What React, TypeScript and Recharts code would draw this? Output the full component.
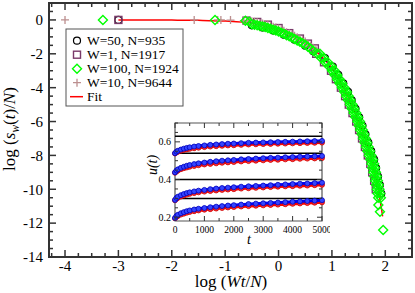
import React from 'react'
import { ComposedChart, Scatter, Line, XAxis, YAxis, ReferenceArea, ReferenceLine } from 'recharts'

// main panel: log(Wt/N) vs log(s_w(t)/N)
const w50 = [
  [-3, 0], [-0.5, -0.32], [-0.3, -0.45], [-0.1, -0.63], [0.1, -0.88], [0.3, -1.17], [0.5, -1.52], [0.65, -1.85],
  [0.869, -2.25], [1.016, -2.75], [1.119, -3.25], [1.212, -3.75], [1.302, -4.25], [1.371, -4.75],
  [1.441, -5.25], [1.51, -5.75], [1.572, -6.25], [1.627, -6.75], [1.681, -7.25], [1.735, -7.75],
  [1.79, -8.25], [1.827, -8.75], [1.863, -9.25], [1.898, -9.75], [1.924, -10.25],
]
const w1 = [
  [-3, 0], [-0.6, -0.04], [-0.4, -0.12], [-0.2, -0.28], [0, -0.48], [0.2, -0.78], [0.4, -1.1], [0.55, -1.4],
  [0.68, -1.68], [0.705, -2], [0.852, -2.5], [0.983, -3], [1.075, -3.5], [1.168, -4], [1.247, -4.5],
  [1.316, -5], [1.386, -5.5], [1.455, -6], [1.509, -6.5], [1.564, -7], [1.618, -7.5], [1.672, -8],
  [1.719, -8.5], [1.755, -9], [1.791, -9.5], [1.821, -10],
]
const w100 = [
  [-3.29, 0], [-1.19, 0], [-0.62, -0.05], [-0.55, -0.1],
  [-0.5, -0.26], [-0.45, -0.29], [-0.4, -0.32], [-0.35, -0.36], [-0.3, -0.39], [-0.25, -0.42],
  [-0.2, -0.47], [-0.15, -0.52], [-0.1, -0.58], [-0.05, -0.63], [0, -0.68], [0.05, -0.75], [0.1, -0.82],
  [0.15, -0.9], [0.2, -0.97], [0.25, -1.04], [0.3, -1.12], [0.35, -1.21], [0.4, -1.29], [0.45, -1.38],
  [0.5, -1.46], [0.55, -1.58], [0.6, -1.7], [0.65, -1.82],
  [0.725, -2], [0.799, -2.25], [0.872, -2.5], [0.946, -2.75], [1.003, -3], [1.049, -3.25], [1.095, -3.5],
  [1.142, -3.75], [1.188, -4], [1.232, -4.25], [1.267, -4.5], [1.301, -4.75], [1.336, -5], [1.371, -5.25],
  [1.406, -5.5], [1.44, -5.75], [1.475, -6], [1.502, -6.25], [1.529, -6.5], [1.557, -6.75], [1.584, -7],
  [1.611, -7.25], [1.638, -7.5], [1.665, -7.75], [1.692, -8], [1.72, -8.25], [1.739, -8.5], [1.757, -8.75],
  [1.775, -9], [1.793, -9.25], [1.811, -9.5], [1.828, -9.75], [1.841, -10], [1.854, -10.25], [1.867, -10.5],
  [0.775, -2], [0.849, -2.25], [0.922, -2.5], [0.996, -2.75], [1.053, -3], [1.099, -3.25], [1.145, -3.5],
  [1.192, -3.75], [1.238, -4], [1.282, -4.25], [1.317, -4.5], [1.351, -4.75], [1.386, -5], [1.421, -5.25],
  [1.456, -5.5], [1.49, -5.75], [1.525, -6], [1.552, -6.25], [1.579, -6.5], [1.607, -6.75], [1.634, -7],
  [1.661, -7.25], [1.688, -7.5], [1.715, -7.75], [1.742, -8], [1.77, -8.25], [1.789, -8.5], [1.807, -8.75],
  [1.825, -9], [1.843, -9.25], [1.861, -9.5], [1.878, -9.75], [1.891, -10], [1.904, -10.25], [1.917, -10.5],
  [1.87, -10.93], [1.9, -11.33], [1.96, -12.4],
]
const w10 = [
  [-4, 0], [-1.58, 0], [-1.14, 0], [-1.08, 0], [-0.9, -0.01],
  [-0.65, -0.04], [-0.6, -0.05], [-0.55, -0.07], [-0.5, -0.08], [-0.45, -0.11], [-0.4, -0.14],
  [-0.35, -0.18], [-0.3, -0.21], [-0.25, -0.24], [-0.2, -0.29], [-0.15, -0.34], [-0.1, -0.4],
  [-0.05, -0.45], [0, -0.5], [0.05, -0.57], [0.1, -0.64], [0.15, -0.72], [0.2, -0.79], [0.25, -0.86],
  [0.3, -0.94], [0.35, -1.03], [0.4, -1.11], [0.45, -1.2], [0.5, -1.28], [0.55, -1.4], [0.6, -1.52],
  [0.65, -1.64], [0.7, -1.76],
]
const fit = [
  [-3, 0], [-2.5, -0.003], [-2, -0.01], [-1.5, -0.025], [-1, -0.07], [-0.5, -0.2], [-0.25, -0.36],
  [0, -0.62], [0.25, -0.98], [0.5, -1.4], [0.75, -2.0], [1, -2.85], [1.25, -4.2], [1.5, -6.0],
  [1.75, -8.3], [1.85, -9.7], [1.95, -11.6],
]

// inset: u(t), four runs, blue and red
const insetT = [0, 50, 100, 200, 300, 400, 500, 650, 800, 1000, 1200, 1400, 1600, 1800, 2000, 2250, 2500, 2750, 3000, 3250, 3500, 3750, 4000, 4250, 4500, 4750, 5000]
const blue1 = [0.540, 0.548, 0.553, 0.559, 0.564, 0.568, 0.571, 0.575, 0.578, 0.581, 0.584, 0.586, 0.588, 0.590, 0.591, 0.593, 0.595, 0.596, 0.597, 0.598, 0.599, 0.600, 0.601, 0.602, 0.603, 0.604, 0.605]
const red1 = [0.538, 0.544, 0.548, 0.553, 0.557, 0.560, 0.563, 0.566, 0.569, 0.572, 0.575, 0.577, 0.579, 0.581, 0.582, 0.584, 0.586, 0.587, 0.588, 0.589, 0.590, 0.591, 0.592, 0.593, 0.594, 0.595, 0.596]
const blue2 = [0.438, 0.448, 0.454, 0.462, 0.468, 0.473, 0.477, 0.482, 0.486, 0.490, 0.494, 0.497, 0.500, 0.502, 0.504, 0.507, 0.509, 0.511, 0.513, 0.515, 0.516, 0.518, 0.519, 0.521, 0.522, 0.523, 0.525]
const red2 = [0.436, 0.443, 0.448, 0.455, 0.460, 0.464, 0.468, 0.472, 0.476, 0.480, 0.483, 0.486, 0.489, 0.491, 0.493, 0.496, 0.498, 0.500, 0.502, 0.504, 0.505, 0.507, 0.508, 0.510, 0.511, 0.512, 0.514]
const blue3 = [0.292, 0.303, 0.309, 0.317, 0.323, 0.328, 0.332, 0.337, 0.341, 0.345, 0.349, 0.352, 0.355, 0.357, 0.359, 0.362, 0.364, 0.366, 0.368, 0.370, 0.372, 0.374, 0.376, 0.378, 0.379, 0.381, 0.383]
const red3 = [0.290, 0.298, 0.303, 0.310, 0.315, 0.320, 0.324, 0.328, 0.332, 0.336, 0.339, 0.342, 0.345, 0.347, 0.349, 0.352, 0.354, 0.356, 0.358, 0.360, 0.362, 0.364, 0.365, 0.367, 0.368, 0.370, 0.372]
const blue4 = [0.196, 0.207, 0.213, 0.221, 0.227, 0.232, 0.236, 0.241, 0.245, 0.249, 0.253, 0.256, 0.259, 0.262, 0.264, 0.267, 0.270, 0.272, 0.274, 0.276, 0.278, 0.280, 0.282, 0.284, 0.286, 0.288, 0.290]
const red4 = [0.194, 0.202, 0.207, 0.214, 0.219, 0.224, 0.228, 0.232, 0.236, 0.240, 0.243, 0.246, 0.249, 0.252, 0.254, 0.257, 0.259, 0.261, 0.263, 0.265, 0.267, 0.269, 0.271, 0.273, 0.275, 0.277, 0.279]
const insetLevels = [0.63, 0.54, 0.4, 0.3]

const SERIF = '"Liberation Serif", "Times New Roman", serif'
const INK = '#333'
const PURPLE = '#7a3a6a'
const GREEN = '#00ff00'
const BROWN = '#bc8f8f'
const RED = '#ff0000'
const BLUE = '#0000ff'

const toXY = (pts: number[][]) => pts.map(([x, y]) => ({ x, y }))

const insetData = insetT.map((t, i) => ({
  t, b1: blue1[i], r1: red1[i], b2: blue2[i], r2: red2[i],
  b3: blue3[i], r3: red3[i], b4: blue4[i], r4: red4[i],
}))

// ticks (major + minor)
const mainXTicks: number[] = []
for (let i = -17; i <= 9; i++) mainXTicks.push(i * 0.25)
const mainYTicks: number[] = []
for (let i = -28; i <= 2; i++) mainYTicks.push(i * 0.5)
const insetXTicks: number[] = []
for (let i = 0; i <= 10; i++) insetXTicks.push(i * 500)
const insetYTicks: number[] = []
for (let i = 4; i <= 14; i++) insetYTicks.push(Math.round(i * 5) / 100)

const isMajor = (v: number, step: number) => {
  const r = v / step
  return Math.abs(r - Math.round(r)) < 1e-6
}

type Box = { left: number; right: number; top: number; bottom: number }

function makeXTick(box: Box, step: number, majLen: number, minLen: number, fs: number, dy: number, fmt: (v: number) => string, sw: number) {
  return (props: any) => {
    const { x, payload } = props
    const v = payload.value
    const major = isMajor(v, step)
    const len = major ? majLen : minLen
    return (
      <g>
        <line x1={x} x2={x} y1={box.bottom} y2={box.bottom - len} stroke={INK} strokeWidth={sw} />
        <line x1={x} x2={x} y1={box.top} y2={box.top + len} stroke={INK} strokeWidth={sw} />
        {major && (
          <text x={x} y={box.bottom + dy} textAnchor="middle" fontFamily={SERIF} fontSize={fs} fill="#000">
            {fmt(v)}
          </text>
        )}
      </g>
    )
  }
}

function makeYTick(box: Box, step: number, majLen: number, minLen: number, fs: number, dx: number, fmt: (v: number) => string, sw: number) {
  return (props: any) => {
    const { y, payload } = props
    const v = payload.value
    const major = isMajor(v, step)
    const len = major ? majLen : minLen
    return (
      <g>
        <line x1={box.left} x2={box.left + len} y1={y} y2={y} stroke={INK} strokeWidth={sw} />
        <line x1={box.right} x2={box.right - len} y1={y} y2={y} stroke={INK} strokeWidth={sw} />
        {major && (
          <text x={box.left - dx} y={y} dy="0.35em" textAnchor="end" fontFamily={SERIF} fontSize={fs} fill="#000">
            {fmt(v)}
          </text>
        )}
      </g>
    )
  }
}

const circleShape = (p: any) => <circle cx={p.cx} cy={p.cy} r={3.5} fill="none" stroke="#000" strokeWidth={1.2} />
const squareShape = (p: any) => (
  <rect x={p.cx - 3.5} y={p.cy - 3.5} width={7} height={7} fill="none" stroke={PURPLE} strokeWidth={1.4} />
)
const diamondShape = (p: any) => (
  <polygon
    points={`${p.cx},${p.cy - 4.5} ${p.cx + 4.5},${p.cy} ${p.cx},${p.cy + 4.5} ${p.cx - 4.5},${p.cy}`}
    fill="none"
    stroke={GREEN}
    strokeWidth={1.4}
  />
)
const plusShape = (p: any) => (
  <path d={`M${p.cx - 4},${p.cy}H${p.cx + 4}M${p.cx},${p.cy - 4}V${p.cy + 4}`} stroke={BROWN} strokeWidth={1.3} fill="none" />
)

const mainBox = { left: 49, right: 412, top: 3, bottom: 257 }
const insetBox = { left: 35, right: 182, top: 8, bottom: 106 }

const legendRows = [
  { label: 'W=50, N=935', shape: circleShape },
  { label: 'W=1, N=1917', shape: squareShape },
  { label: 'W=100, N=1924', shape: diamondShape },
  { label: 'W=10, N=9644', shape: plusShape },
]

function MainChart() {
  return (
    <ComposedChart width={415} height={293} margin={{ top: 3, right: 3, bottom: 0, left: 0 }}>
      <XAxis
        type="number"
        dataKey="x"
        domain={[-4.3, 2.5]}
        ticks={mainXTicks}
        interval={0}
        tick={makeXTick(mainBox, 1, 7, 4, 15, 14, (v) => String(Math.round(v)), 1.5)}
        tickLine={false}
        axisLine={false}
        height={36}
        allowDataOverflow
      />
      <YAxis
        type="number"
        dataKey="y"
        domain={[-14, 1]}
        ticks={mainYTicks}
        interval={0}
        tick={makeYTick(mainBox, 2, 7, 4, 15, 6, (v) => String(Math.round(v)), 1.5)}
        tickLine={false}
        axisLine={false}
        width={49}
        allowDataOverflow
      />
      <ReferenceArea x1={-4.3} x2={2.5} y1={-14} y2={1} fill="none" stroke={INK} strokeWidth={2} />
      <Scatter data={toXY(w50)} shape={circleShape} isAnimationActive={false} />
      <Scatter data={toXY(w1)} shape={squareShape} isAnimationActive={false} />
      <Scatter data={toXY(w10)} shape={plusShape} isAnimationActive={false} />
      <Scatter data={toXY(w100)} shape={diamondShape} isAnimationActive={false} />
      <Line data={toXY(fit)} dataKey="y" type="monotone" stroke={RED} strokeWidth={1.5} dot={false} isAnimationActive={false} />
    </ComposedChart>
  )
}

function InsetChart() {
  const pairs = [
    ['r1', 'b1'],
    ['r2', 'b2'],
    ['r3', 'b3'],
    ['r4', 'b4'],
  ]
  return (
    <ComposedChart width={190} height={135} data={insetData} margin={{ top: 8, right: 8, bottom: 0, left: 0 }}>
      <XAxis
        type="number"
        dataKey="t"
        domain={[0, 5000]}
        ticks={insetXTicks}
        interval={0}
        tick={makeXTick(insetBox, 1000, 5, 3, 9.5, 12, (v) => String(v), 1)}
        tickLine={false}
        axisLine={false}
        height={29}
      />
      <YAxis
        type="number"
        domain={[0.18, 0.7]}
        ticks={insetYTicks}
        interval={0}
        tick={makeYTick(insetBox, 0.2, 5, 3, 10, 4, (v) => v.toFixed(1), 1)}
        tickLine={false}
        axisLine={false}
        width={35}
        allowDataOverflow
      />
      <ReferenceArea x1={0} x2={5000} y1={0.18} y2={0.7} fill="none" stroke="#555" strokeWidth={1.2} />
      {insetLevels.map((v) => (
        <ReferenceLine key={v} y={v} stroke="#000" strokeWidth={1.5} />
      ))}
      {pairs.map(([r, b]) => [
        <Line
          key={r}
          dataKey={r}
          type="monotone"
          stroke={RED}
          strokeWidth={3}
          dot={{ r: 2.5, fill: '#ff3030', stroke: '#cc0000', strokeWidth: 0.8 }}
          isAnimationActive={false}
        />,
        <Line
          key={b}
          dataKey={b}
          type="monotone"
          stroke={BLUE}
          strokeWidth={3}
          dot={{ r: 2.5, fill: '#3344ff', stroke: '#0000bb', strokeWidth: 0.8 }}
          isAnimationActive={false}
        />,
      ])}
    </ComposedChart>
  )
}

export default function App() {
  return (
    <div style={{ position: 'absolute', left: 0, top: 0, width: 415, height: 293, background: '#fff' }}>
      <MainChart />
      <div style={{ position: 'absolute', left: 140, top: 115, width: 190, height: 135 }}>
        <InsetChart />
      </div>
      <svg width={415} height={293} style={{ position: 'absolute', left: 0, top: 0, pointerEvents: 'none' }}>
        <text transform="translate(15,129) rotate(-90)" textAnchor="middle" fontFamily={SERIF} fontSize={17} fill="#000">
          log (<tspan fontStyle="italic">s</tspan>
          <tspan fontStyle="italic" fontSize={11.5} dy={4}>w</tspan>
          <tspan dy={-4}>(</tspan>
          <tspan fontStyle="italic">t</tspan>)/<tspan fontStyle="italic">N</tspan>)
        </text>
        <text x={231} y={287} textAnchor="middle" fontFamily={SERIF} fontSize={17} fill="#000">
          log (<tspan fontStyle="italic">Wt</tspan>/<tspan fontStyle="italic">N</tspan>)
        </text>
        <text transform="translate(157,165) rotate(-90)" textAnchor="middle" fontFamily={SERIF} fontSize={14} fontStyle="italic" fill="#000">
          u(t)
        </text>
        <text x={249} y={244} textAnchor="middle" fontFamily={SERIF} fontSize={14} fontStyle="italic" fill="#000">
          t
        </text>
        <rect x={66} y={29} width={117} height={77} fill="#fff" stroke="#555" strokeWidth={1} />
        {legendRows.map((row, i) => {
          const cy = 40.7 + i * 14
          return (
            <g key={row.label}>
              {row.shape({ cx: 77, cy })}
              <text x={87} y={cy} dy="0.35em" fontFamily={SERIF} fontSize={13.5} fill="#000">
                {row.label}
              </text>
            </g>
          )
        })}
        <line x1={70} x2={83} y1={96.7} y2={96.7} stroke={RED} strokeWidth={1.5} />
        <text x={87} y={96.7} dy="0.35em" fontFamily={SERIF} fontSize={13.5} fill="#000">
          Fit
        </text>
      </svg>
    </div>
  )
}
